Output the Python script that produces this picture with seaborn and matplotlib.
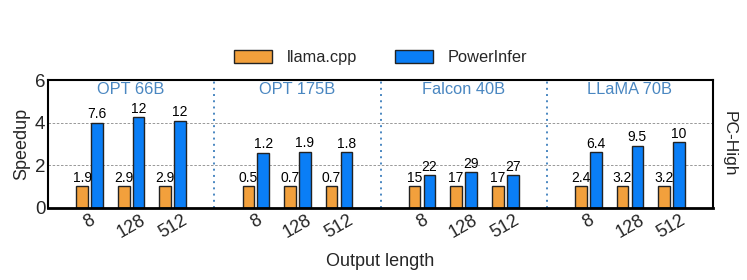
import numpy as np
import pandas as pd
import seaborn as sns
import matplotlib
matplotlib.use("Agg")
import matplotlib.pyplot as plt

models = ["OPT 66B", "OPT 175B", "Falcon 40B", "LLaMA 70B"]
lengths = ["8", "128", "512"]
systems = ["llama.cpp", "PowerInfer"]
llama_speedup = [1, 1, 1, 1, 1, 1, 1, 1, 1, 1, 1, 1]
powerinfer_speedup = [4.0, 4.25, 4.09, 2.58, 2.63, 2.60, 1.52, 1.66, 1.54, 2.62, 2.91, 3.07]
llama_labels = ["1.9", "2.9", "2.9", "0.5", "0.7", "0.7", "15", "17", "17", "2.4", "3.2", "3.2"]
powerinfer_labels = ["7.6", "12", "12", "1.2", "1.9", "1.8", "22", "29", "27", "6.4", "9.5", "10"]
colors = ["#F2A03C", "#0A7EF6"]
title_color = "#4A87C1"

sns.set_theme(style="white")
plt.rcParams["font.family"] = ["Liberation Sans", "DejaVu Sans"]

pos = [g * 4 + i + 1 for g in range(len(models)) for i in range(len(lengths))]
rows = []
for p, v in zip(pos, llama_speedup):
    rows.append({"pos": p, "speedup": v, "system": systems[0]})
for p, v in zip(pos, powerinfer_speedup):
    rows.append({"pos": p, "speedup": v, "system": systems[1]})
df = pd.DataFrame(rows)

fig = plt.figure(figsize=(7.47, 2.8), dpi=100)
ax = fig.add_axes([0.0643, 0.258, 0.8902, 0.456])

sns.barplot(data=df, x="pos", y="speedup", hue="system", hue_order=systems,
            palette=colors, native_scale=True, width=0.72, gap=0.22,
            edgecolor="#222222", linewidth=1.0, saturation=1, ax=ax, errorbar=None)

for cont, labs in zip(ax.containers, [llama_labels, powerinfer_labels]):
    ax.bar_label(cont, labels=labs, padding=1, fontsize=10, color="black")

ax.set_xlim(0, 16)
ax.set_ylim(0, 6)
ax.set_yticks([0, 2, 4, 6])
ax.set_xticks(pos)
ax.set_xticklabels(lengths * len(models), rotation=30, ha="center", fontsize=13)
ax.tick_params(axis="y", labelsize=13.5, length=0, pad=2)
ax.tick_params(axis="x", length=0, pad=3)
for y in [2, 4]:
    ax.axhline(y, color="#888888", linestyle=(0, (3, 2)), linewidth=0.6, zorder=0)
for xd in [4, 8, 12]:
    ax.axvline(xd, color=title_color, linestyle=(0, (1, 2.2)), linewidth=1.4, zorder=0)
for g, m in enumerate(models):
    ax.text(g * 4 + 2, 5.58, m, ha="center", va="center", fontsize=11.8, color=title_color)

ax.set_ylabel("Speedup", fontsize=13, labelpad=3)
ax.set_xlabel("Output length", fontsize=13, labelpad=8)
ax.text(1.024, 0.5, "PC-High", transform=ax.transAxes, rotation=-90,
        ha="center", va="center", fontsize=12.5)

for s in ax.spines.values():
    s.set_color("black")
    s.set_linewidth(1.5)
ax.spines["bottom"].set_linewidth(2)

handles, labels = ax.get_legend_handles_labels()
ax.legend(handles, labels, loc="center", bbox_to_anchor=(0.5, 1.175), ncol=2,
          frameon=False, fontsize=11.8, handlelength=2.3, handleheight=0.8,
          handletextpad=0.9, columnspacing=2.3)

fig.savefig("out.png", dpi=100)
